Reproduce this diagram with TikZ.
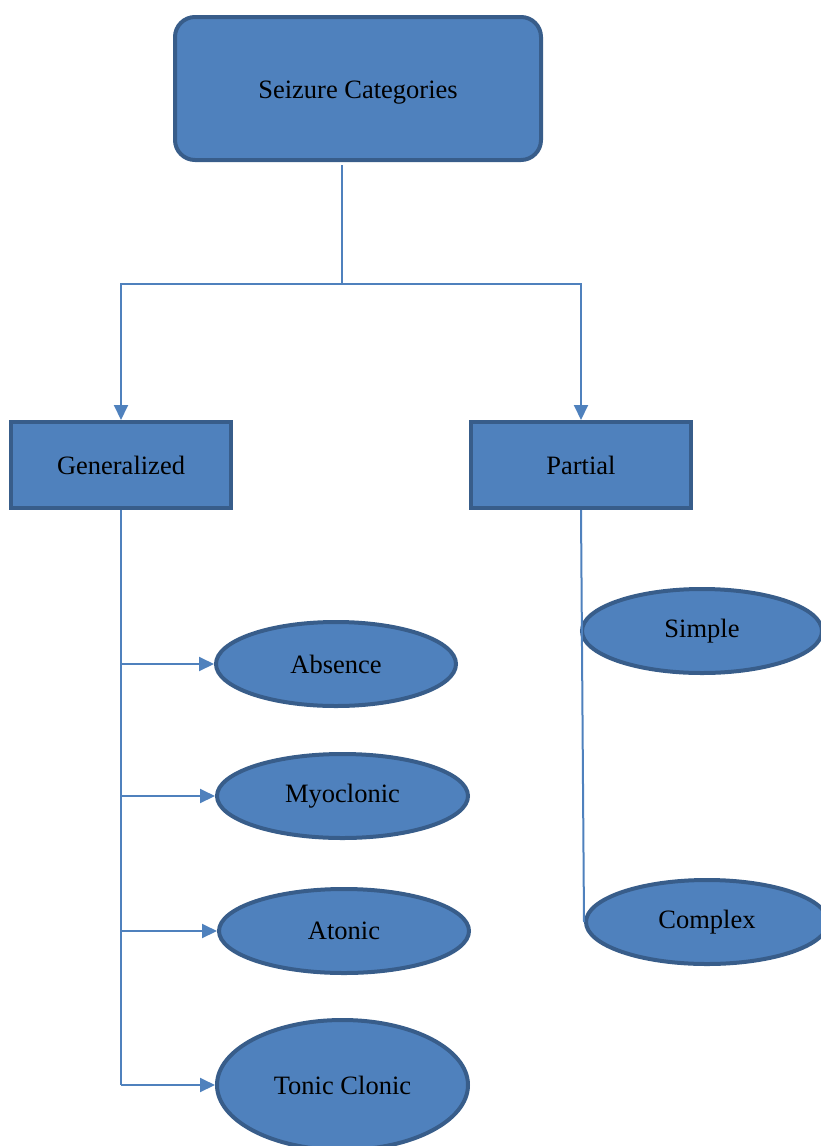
\documentclass[tikz,border=0pt]{standalone}
\usepackage{fontspec}
\setmainfont{Liberation Serif}
\usetikzlibrary{arrows.meta,shapes.geometric}
\definecolor{fillblue}{HTML}{4F81BD}
\definecolor{edgeblue}{HTML}{385D8A}
\begin{document}
\begin{tikzpicture}[x=1pt,y=-1pt,
  base/.style={fill=fillblue,draw=edgeblue,line width=4pt,inner sep=0pt,font=\fontsize{26.5}{30}\selectfont},
  rbox/.style={base,rectangle,rounded corners=20pt},
  sbox/.style={base,rectangle},
  oval/.style={base,ellipse},
  conn/.style={draw=fillblue,line width=2pt},
  arr/.style={conn,-{Triangle[length=15pt,width=14pt]}}]
\path[use as bounding box] (0,0) rectangle (820,1146);
\node[rbox,minimum width=366pt,minimum height=143pt,text depth=0pt,yshift=0pt] (root) at (358,88.5) {\raisebox{-3pt}{Seizure Categories}};
\node[sbox,minimum width=220pt,minimum height=86pt] (gen) at (121,465) {Generalized};
\node[sbox,minimum width=220pt,minimum height=86pt] (part) at (581,465) {Partial};
\node[oval,minimum width=240pt,minimum height=84pt] (absence) at (336,664) {Absence};
\node[oval,minimum width=251pt,minimum height=84pt] (myo) at (342.5,796) {Myoclonic};
\node[oval,minimum width=250pt,minimum height=84pt] (atonic) at (344,931) {Atonic};
\node[oval,minimum width=251pt,minimum height=130pt] (tonic) at (342.5,1085) {Tonic Clonic};
\node[oval,minimum width=240pt,minimum height=84pt] (simple) at (702,631) {Simple};
\node[oval,minimum width=242pt,minimum height=84pt] (complex) at (707,922) {Complex};
\coordinate (j) at (342,284);
\draw[conn] ([yshift=-3pt]root.south -| j) -- (j);
\draw[arr] (j) -| (gen.north);
\draw[arr] (j) -| (part.north);
\draw[conn] (gen.south) -- (gen.south |- tonic.west);
\draw[arr] (gen.south |- absence.west) -- (absence.west);
\draw[arr] (gen.south |- myo.west) -- (myo.west);
\draw[arr] (gen.south |- atonic.west) -- (atonic.west);
\draw[arr] (gen.south |- tonic.west) -- (tonic.west);
\draw[conn] (part.south) -- (complex.west);
\end{tikzpicture}
\end{document}
